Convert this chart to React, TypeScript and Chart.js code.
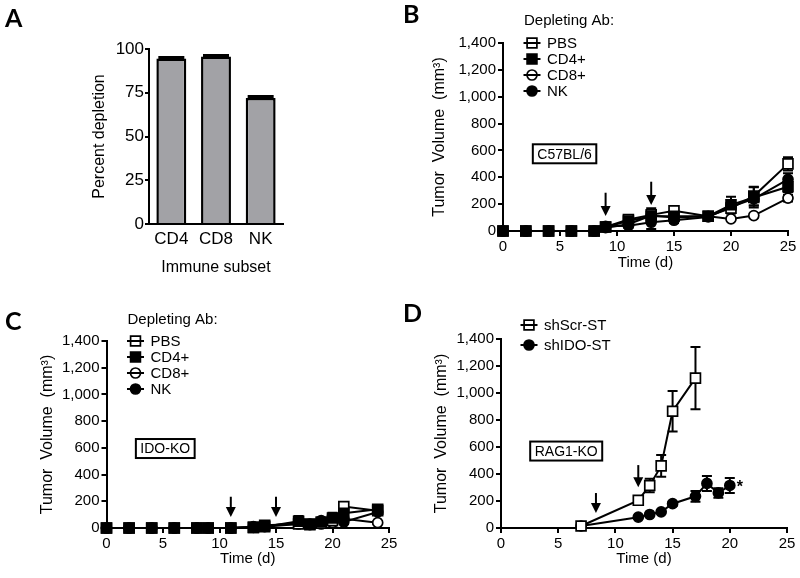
import React, { useEffect, useRef } from 'react';
import { Chart, registerables } from 'chart.js';

Chart.register(...registerables);

const FONT = "'Liberation Sans', Arial, sans-serif";
const LETTER_FONT = "Lato, 'Open Sans', sans-serif";

// ---------------- Panel A data ----------------
const subsetLabels = ['CD4', 'CD8', 'NK'];
const depletionPercent = [94.6, 95.7, 72.0];
const depletionSem = [0.6, 0.6, 0.8];
const depletionTicks = [0, 25, 50, 75, 100];

// ---------------- shared ticks ----------------
const dayTicks = [0, 5, 10, 15, 20, 25];
const volumeTicks = [0, 200, 400, 600, 800, 1000, 1200, 1400];

// ---------------- Panel B data (C57BL/6) ----------------
const daysB = [0, 2, 4, 6, 8, 9, 11, 13, 15, 18, 20, 22, 25];
const bPBS = [0, 0, 0, 0, 0, 30, 85, 120, 150, 110, 170, 260, 500];
const bPBSErr = [0, 0, 0, 0, 0, 8, 25, 50, 25, 15, 40, 70, 50];
const bCD4 = [0, 0, 0, 0, 0, 30, 75, 110, 110, 110, 195, 250, 330];
const bCD4Err = [0, 0, 0, 0, 0, 8, 20, 30, 20, 15, 60, 75, 40];
const bCD8 = [0, 0, 0, 0, 0, 25, 50, 115, 100, 110, 90, 115, 245];
const bCD8Err = [0, 0, 0, 0, 0, 6, 15, 30, 15, 15, 15, 15, 25];
const bNK = [0, 0, 0, 0, 0, 35, 40, 65, 80, 105, 180, 240, 385];
const bNKErr = [0, 0, 0, 0, 0, 8, 15, 50, 20, 15, 40, 50, 45];
const arrowsB = [
  { day: 9, from: 285, to: 112 },
  { day: 13, from: 367, to: 194 },
];

// ---------------- Panel C data (IDO-KO) ----------------
const daysC = [0, 2, 4, 6, 8, 9, 11, 13, 14, 17, 18, 19, 20, 21, 24];
const cPBS = [0, 0, 0, 0, 0, 0, 0, 5, 20, 30, 25, 35, 55, 160, 130];
const cPBSErr = [0, 0, 0, 0, 0, 0, 0, 3, 8, 10, 8, 10, 30, 15, 15];
const cCD4 = [0, 0, 0, 0, 0, 0, 0, 5, 10, 50, 30, 45, 75, 110, 140];
const cCD4Err = [0, 0, 0, 0, 0, 0, 0, 3, 5, 40, 10, 20, 40, 30, 20];
const cCD8 = [0, 0, 0, 0, 0, 0, 0, 5, 10, 30, 25, 30, 40, 70, 40];
const cCD8Err = [0, 0, 0, 0, 0, 0, 0, 3, 5, 10, 8, 10, 15, 20, 10];
const cNK = [0, 0, 0, 0, 0, 0, 0, 10, 15, 40, 30, 55, 70, 45, 120];
const cNKErr = [0, 0, 0, 0, 0, 0, 0, 3, 5, 15, 10, 15, 25, 15, 20];
const arrowsC = [
  { day: 11, from: 234, to: 82 },
  { day: 15, from: 234, to: 82 },
];

// ---------------- Panel D data (RAG1-KO) ----------------
const daysScr = [7, 12, 13, 14, 15, 17];
const dScr = [15, 205, 315, 460, 865, 1110];
const dScrErr = [10, 25, 50, 80, 150, 230];
const daysIDO = [7, 12, 13, 14, 15, 17, 18, 19, 20];
const dIDO = [15, 80, 100, 120, 180, 235, 330, 260, 315];
const dIDOErr = [5, 10, 10, 10, 15, 40, 55, 35, 55];
const arrowsD = [
  { day: 8.3, from: 259, to: 111 },
  { day: 12, from: 466, to: 301 },
];

type Marker = 'openSquare' | 'filledSquare' | 'openCircle' | 'filledCircle';

const legendDepleting: { label: string; marker: Marker }[] = [
  { label: 'PBS', marker: 'openSquare' },
  { label: 'CD4+', marker: 'filledSquare' },
  { label: 'CD8+', marker: 'openCircle' },
  { label: 'NK', marker: 'filledCircle' },
];
const legendD: { label: string; marker: Marker }[] = [
  { label: 'shScr-ST', marker: 'openSquare' },
  { label: 'shIDO-ST', marker: 'filledCircle' },
];

function lineDataset(label: string, days: number[], values: number[], errors: number[], marker: Marker, order: number) {
  const filled = marker.startsWith('filled');
  const square = marker.endsWith('Square');
  return {
    label,
    data: days.map((d, i) => ({ x: d, y: values[i] })),
    errors,
    borderColor: '#000',
    borderWidth: 2,
    backgroundColor: filled ? '#000' : '#fff',
    pointStyle: square ? 'rect' : 'circle',
    pointRadius: square ? 7 : 5,
    pointBorderWidth: 1.7,
    pointBackgroundColor: filled ? '#000' : '#fff',
    pointBorderColor: '#000',
    fill: false,
    tension: 0,
    clip: false,
    order,
  };
}

function drawErrors(chart: any, after: boolean) {
  const ctx = chart.ctx;
  const ys = chart.scales.y;
  chart.data.datasets.forEach((ds: any, i: number) => {
    if (!ds.errors) return;
    if (!!ds.errorsAfter !== after) return;
    const meta = chart.getDatasetMeta(i);
    const cap = ds.errorCap || 5;
    meta.data.forEach((el: any, j: number) => {
      const e = ds.errors[j];
      if (!e) return;
      const raw = ds.data[j];
      const v = typeof raw === 'number' ? raw : raw.y;
      const top = ys.getPixelForValue(v + e);
      const bot = ds.errorsUpOnly ? ys.getPixelForValue(v) : ys.getPixelForValue(v - e);
      const x = el.x;
      ctx.save();
      ctx.strokeStyle = '#000';
      ctx.lineWidth = ds.errorWidth || 2;
      ctx.beginPath();
      ctx.moveTo(x, top);
      ctx.lineTo(x, bot);
      ctx.moveTo(x - cap, top);
      ctx.lineTo(x + cap, top);
      if (!ds.errorsUpOnly) {
        ctx.moveTo(x - cap, bot);
        ctx.lineTo(x + cap, bot);
      }
      ctx.stroke();
      ctx.restore();
    });
  });
}

const errorBarPlugin = {
  id: 'customErrorBars',
  beforeDatasetsDraw(chart: any) {
    drawErrors(chart, false);
  },
  afterDatasetsDraw(chart: any) {
    drawErrors(chart, true);
  },
};

function drawMarker(ctx: CanvasRenderingContext2D, marker: Marker, x: number, y: number) {
  const filled = marker.startsWith('filled');
  const square = marker.endsWith('Square');
  ctx.save();
  ctx.strokeStyle = '#000';
  ctx.fillStyle = filled ? '#000' : '#fff';
  ctx.lineWidth = 1.7;
  ctx.beginPath();
  if (square) ctx.rect(x - 4.9, y - 4.9, 9.8, 9.8);
  else ctx.arc(x, y, 5, 0, Math.PI * 2);
  ctx.fill();
  ctx.stroke();
  ctx.lineWidth = 2;
  ctx.beginPath();
  ctx.moveTo(x - 8.5, y);
  ctx.lineTo(x + 8.5, y);
  ctx.stroke();
  ctx.restore();
}

interface AnnotSpec {
  letter: string;
  letterPos: [number, number];
  legendTitle?: string;
  legendItems?: { label: string; marker: Marker }[];
  legendTitleOffset?: [number, number];
  legendMarkerDx?: number;
  legendTextDx?: number;
  legendRowTop?: number;
  legendRowGap?: number;
  box?: { text: string; day: number; value: number };
  arrows?: { day: number; from: number; to: number }[];
  star?: boolean;
}

function makeAnnotationPlugin(spec: AnnotSpec) {
  return {
    id: 'annotations',
    afterDraw(chart: any) {
      const { ctx, chartArea } = chart;
      const xs = chart.scales.x;
      const ys = chart.scales.y;
      ctx.save();
      ctx.fillStyle = '#000';
      ctx.strokeStyle = '#000';
      // panel letter
      ctx.font = `bold 25px ${LETTER_FONT}`;
      ctx.textAlign = 'left';
      ctx.textBaseline = 'alphabetic';
      ctx.fillText(spec.letter, spec.letterPos[0], spec.letterPos[1]);

      // legend
      if (spec.legendItems) {
        ctx.font = `15px ${FONT}`;
        ctx.textBaseline = 'middle';
        if (spec.legendTitle && spec.legendTitleOffset) {
          ctx.fillText(spec.legendTitle, chartArea.left + spec.legendTitleOffset[0], chartArea.top + spec.legendTitleOffset[1]);
        }
        spec.legendItems.forEach((it, i) => {
          const y = chartArea.top + (spec.legendRowTop || 0) + i * (spec.legendRowGap || 16);
          drawMarker(ctx, it.marker, chartArea.left + (spec.legendMarkerDx || 29), y);
          ctx.fillStyle = '#000';
          ctx.fillText(it.label, chartArea.left + (spec.legendTextDx || 44), y + 1);
        });
      }

      // strain box
      if (spec.box) {
        ctx.font = `14px ${FONT}`;
        ctx.textAlign = 'center';
        ctx.textBaseline = 'middle';
        const cx = xs.getPixelForValue(spec.box.day);
        const cy = ys.getPixelForValue(spec.box.value);
        const w = ctx.measureText(spec.box.text).width + 9;
        const h = 19;
        ctx.lineWidth = 2;
        ctx.strokeRect(cx - w / 2, cy - h / 2, w, h);
        ctx.fillText(spec.box.text, cx, cy + 1);
      }

      // arrows
      (spec.arrows || []).forEach((a) => {
        const px = xs.getPixelForValue(a.day);
        const p1 = ys.getPixelForValue(a.from);
        const p2 = ys.getPixelForValue(a.to);
        ctx.lineWidth = 2;
        ctx.beginPath();
        ctx.moveTo(px, p1);
        ctx.lineTo(px, p2 - 6);
        ctx.stroke();
        ctx.beginPath();
        ctx.moveTo(px - 5, p2 - 10);
        ctx.lineTo(px + 5, p2 - 10);
        ctx.lineTo(px, p2);
        ctx.closePath();
        ctx.fill();
      });

      // significance star
      if (spec.star) {
        const last = chart.data.datasets.length - 1;
        const meta = chart.getDatasetMeta(last);
        const el = meta.data[meta.data.length - 1];
        ctx.font = `bold 16px ${FONT}`;
        ctx.textAlign = 'left';
        ctx.textBaseline = 'middle';
        ctx.fillText('*', el.x + 7, el.y + 2);
      }
      ctx.restore();
    },
  };
}

function axisCommon(size: number, tickLen: number, pad: number, drawTicks: boolean) {
  return {
    grid: { display: true, drawOnChartArea: false, drawTicks, tickLength: tickLen, color: '#000', lineWidth: 2 },
    border: { display: true, color: '#000', width: 2 },
    ticks: { font: { family: FONT, size }, color: '#000', padding: pad, autoSkip: false, maxRotation: 0, minRotation: 0 },
  };
}

function lineConfig(datasets: any[], yWidth: number, xHeight: number, padding: any, spec: AnnotSpec) {
  return {
    type: 'line',
    data: { datasets },
    options: {
      animation: false,
      responsive: false,
      events: [],
      layout: { padding },
      plugins: { legend: { display: false }, tooltip: { enabled: false } },
      scales: {
        x: {
          type: 'linear',
          min: 0,
          max: 25,
          ...axisCommon(15, 5, 2, true),
          afterBuildTicks: (s: any) => {
            s.ticks = dayTicks.map((v) => ({ value: v }));
          },
          afterFit: (s: any) => {
            s.height = xHeight;
          },
          title: { display: true, text: 'Time (d)', font: { family: FONT, size: 15 }, color: '#000', padding: 0 },
        },
        y: {
          type: 'linear',
          min: 0,
          max: 1400,
          ...axisCommon(15, 5, 2, true),
          afterBuildTicks: (s: any) => {
            s.ticks = volumeTicks.map((v) => ({ value: v }));
          },
          afterFit: (s: any) => {
            s.width = yWidth;
          },
          ticks: {
            ...axisCommon(15, 5, 2, true).ticks,
            callback: (v: any) => Number(v).toLocaleString('en-US'),
          },
          title: { display: true, text: 'Tumor  Volume  (mm\u00B3)', font: { family: FONT, size: 16 }, color: '#000', padding: 0 },
        },
      },
    },
    plugins: [errorBarPlugin, makeAnnotationPlugin(spec)],
  };
}

function barConfig() {
  return {
    type: 'bar',
    data: {
      labels: subsetLabels,
      datasets: [
        {
          data: depletionPercent,
          errors: depletionSem,
          errorsUpOnly: true,
          errorsAfter: true,
          errorCap: 13,
          errorWidth: 3,
          backgroundColor: '#a2a2a6',
          borderColor: '#000',
          borderWidth: 2.5,
          barPercentage: 0.67,
          categoryPercentage: 1,
        },
      ],
    },
    options: {
      animation: false,
      responsive: false,
      events: [],
      layout: { padding: { left: 90.4, top: 49, right: 517, bottom: 300.4 } },
      plugins: { legend: { display: false }, tooltip: { enabled: false } },
      scales: {
        x: {
          type: 'category',
          offset: true,
          ...axisCommon(17, 0, 5, false),
          afterFit: (s: any) => {
            s.height = 53.6;
          },
          title: { display: true, text: 'Immune subset', font: { family: FONT, size: 16 }, color: '#000', padding: 0 },
        },
        y: {
          type: 'linear',
          min: 0,
          max: 100,
          ...axisCommon(17, 4, 1, true),
          afterBuildTicks: (s: any) => {
            s.ticks = depletionTicks.map((v) => ({ value: v }));
          },
          afterFit: (s: any) => {
            s.width = 58.6;
          },
          title: { display: true, text: 'Percent depletion', font: { family: FONT, size: 16 }, color: '#000', padding: 0 },
        },
      },
    },
    plugins: [
      errorBarPlugin,
      {
        id: 'letterA',
        afterDraw(chart: any) {
          const ctx = chart.ctx;
          ctx.save();
          ctx.fillStyle = '#000';
          ctx.font = `bold 25px ${LETTER_FONT}`;
          ctx.textBaseline = 'alphabetic';
          ctx.fillText('A', 5, 27);
          ctx.restore();
        },
      },
    ],
  };
}

function ChartCanvas({ make }: { make: () => any }) {
  const ref = useRef<HTMLCanvasElement | null>(null);
  useEffect(() => {
    if (!ref.current) return;
    const chart = new Chart(ref.current, make());
    return () => chart.destroy();
  }, []);
  return (
    <canvas
      ref={ref}
      width={800}
      height={578}
      style={{ position: 'absolute', left: 0, top: 0, width: 800, height: 578 }}
    />
  );
}

export default function App() {
  const makeB = () =>
    lineConfig(
      [
        lineDataset('PBS', daysB, bPBS, bPBSErr, 'openSquare', 1),
        lineDataset('CD4+', daysB, bCD4, bCD4Err, 'filledSquare', 0),
        lineDataset('CD8+', daysB, bCD8, bCD8Err, 'openCircle', 2),
        lineDataset('NK', daysB, bNK, bNKErr, 'filledCircle', 1),
      ],
      72.6,
      41,
      { left: 430.4, top: 43, right: 12, bottom: 306 },
      {
        letter: 'B',
        letterPos: [403, 23],
        legendTitle: 'Depleting Ab:',
        legendItems: legendDepleting,
        legendTitleOffset: [21, -22],
        legendMarkerDx: 29,
        legendTextDx: 44,
        legendRowTop: 0,
        legendRowGap: 16,
        box: { text: 'C57BL/6', day: 5.4, value: 575 },
        arrows: arrowsB,
      }
    );
  const makeC = () =>
    lineConfig(
      [
        lineDataset('PBS', daysC, cPBS, cPBSErr, 'openSquare', 1),
        lineDataset('CD4+', daysC, cCD4, cCD4Err, 'filledSquare', 0),
        lineDataset('CD8+', daysC, cCD8, cCD8Err, 'openCircle', 2),
        lineDataset('NK', daysC, cNK, cNKErr, 'filledCircle', 1),
      ],
      69,
      40,
      { left: 37.5, top: 341, right: 411, bottom: 10 },
      {
        letter: 'C',
        letterPos: [5, 330],
        legendTitle: 'Depleting Ab:',
        legendItems: legendDepleting,
        legendTitleOffset: [21, -21],
        legendMarkerDx: 29,
        legendTextDx: 44,
        legendRowTop: 0,
        legendRowGap: 16,
        box: { text: 'IDO-KO', day: 5.2, value: 595 },
        arrows: arrowsC,
      }
    );
  const makeD = () =>
    lineConfig(
      [
        lineDataset('shScr-ST', daysScr, dScr, dScrErr, 'openSquare', 0),
        lineDataset('shIDO-ST', daysIDO, dIDO, dIDOErr, 'filledCircle', 1),
      ],
      69,
      40,
      { left: 432, top: 339, right: 13, bottom: 10 },
      {
        letter: 'D',
        letterPos: [403, 322],
        legendItems: legendD,
        legendMarkerDx: 28,
        legendTextDx: 43,
        legendRowTop: -14,
        legendRowGap: 20,
        box: { text: 'RAG1-KO', day: 5.7, value: 570 },
        arrows: arrowsD,
        star: true,
      }
    );
  return (
    <div style={{ position: 'fixed', left: 0, top: 0, width: 800, height: 578, background: '#fff' }}>
      <ChartCanvas make={barConfig} />
      <ChartCanvas make={makeB} />
      <ChartCanvas make={makeC} />
      <ChartCanvas make={makeD} />
    </div>
  );
}
